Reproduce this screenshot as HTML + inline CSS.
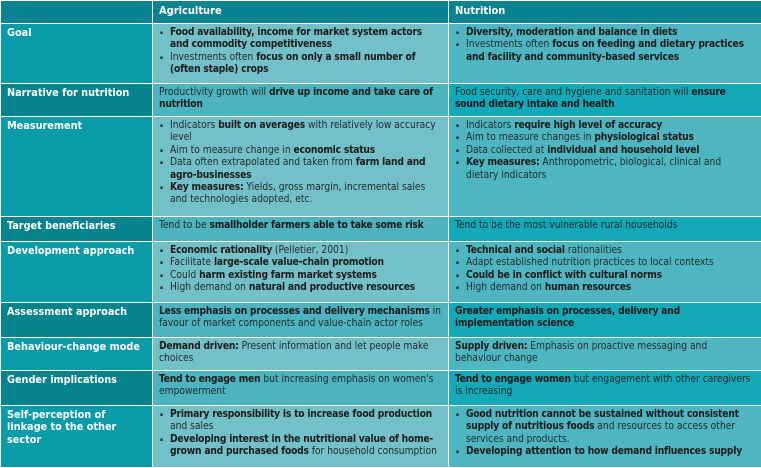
<!DOCTYPE html>
<html><head><style>
body{margin:0;width:761px;height:467px;overflow:hidden;background:#fff;font-family:"DejaVu Sans Condensed","Liberation Sans",sans-serif;}
table{border-collapse:collapse;width:761px;table-layout:fixed;font-size:10.2px;line-height:12.4px;color:#1d2a2c;}
td{border:1.5px solid #fff;vertical-align:top;padding:3px 5px 2px 6px;overflow:hidden;}
td.h{color:#fff;font-weight:bold;font-size:10.8px;}
tr.hd td{background:#08838f;color:#fff;font-weight:bold;font-size:11px;padding-top:4px;}
tr.a td.h{background:#0a9ba8}
tr.a td.c2{background:#74c0c9}
tr.a td.c3{background:#4fb6c1}
tr.b td.h{background:#07838e}
tr.b td.c2{background:#4cb3bf}
tr.b td.c3{background:#14a9b8}
ul{margin:0;padding:0;list-style:none}
li{padding-left:11px;position:relative}
li:before{content:"▪";position:absolute;left:1px;font-size:5px;top:0}
b{font-weight:bold;color:#1a1a1a;letter-spacing:-0.2px}
</style></head><body>
<table>
<col style="width:152px"><col style="width:296px"><col style="width:313px">
<tr class="hd" style="height:23px"><td></td><td>Agriculture</td><td>Nutrition</td></tr>
<tr class="a" style="height:60px"><td class="h">Goal</td><td class="c2"><ul><li><b>Food availability, income for market system actors and commodity competitiveness</b></li><li>Investments often <b>focus on only a small number of (often staple) crops</b></li></ul></td><td class="c3"><ul><li><b>Diversity, moderation and balance in diets</b></li><li>Investments often <b>focus on feeding and dietary practices and facility and community-based services</b></li></ul></td></tr>
<tr class="b" style="height:33px"><td class="h">Narrative for nutrition</td><td class="c2">Productivity growth will <b>drive up income and take care of nutrition</b></td><td class="c3">Food security, care and hygiene and sanitation will <b>ensure sound dietary intake and health</b></td></tr>
<tr class="a" style="height:100px"><td class="h">Measurement</td><td class="c2"><ul><li>Indicators <b>built on averages</b> with relatively low accuracy level</li><li>Aim to measure change in <b>economic status</b></li><li>Data often extrapolated and taken from <b>farm land and agro-businesses</b></li><li><b>Key measures:</b> Yields, gross margin, incremental sales and technologies adopted, etc.</li></ul></td><td class="c3"><ul><li>Indicators <b>require high level of accuracy</b></li><li>Aim to measure changes in <b>physiological status</b></li><li>Data collected at <b>individual and household level</b></li><li><b>Key measures:</b> Anthropometric, biological, clinical and dietary indicators</li></ul></td></tr>
<tr class="b" style="height:25px"><td class="h">Target beneficiaries</td><td class="c2">Tend to be <b>smallholder farmers able to take some risk</b></td><td class="c3">Tend to be the most vulnerable rural households</td></tr>
<tr class="a" style="height:61px"><td class="h">Development approach</td><td class="c2"><ul><li><b>Economic rationality</b> (Pelletier, 2001)</li><li>Facilitate <b>large-scale value-chain promotion</b></li><li>Could <b>harm existing farm market systems</b></li><li>High demand on <b>natural and productive resources</b></li></ul></td><td class="c3"><ul><li><b>Technical and social</b> rationalities</li><li>Adapt established nutrition practices to local contexts</li><li><b>Could be in conflict with cultural norms</b></li><li>High demand on <b>human resources</b></li></ul></td></tr>
<tr class="b" style="height:35px"><td class="h">Assessment approach</td><td class="c2"><b>Less emphasis on processes and delivery mechanisms</b> in favour of market components and value-chain actor roles</td><td class="c3"><b>Greater emphasis on processes, delivery and implementation science</b></td></tr>
<tr class="a" style="height:33px"><td class="h">Behaviour-change mode</td><td class="c2"><b>Demand driven:</b> Present information and let people make choices</td><td class="c3"><b>Supply driven:</b> Emphasis on proactive messaging and behaviour change</td></tr>
<tr class="b" style="height:35px"><td class="h">Gender implications</td><td class="c2"><b>Tend to engage men</b> but increasing emphasis on women's empowerment</td><td class="c3"><b>Tend to engage women</b> but engagement with other caregivers is increasing</td></tr>
<tr class="a" style="height:62px"><td class="h">Self-perception of linkage to the other sector</td><td class="c2"><ul><li><b>Primary responsibility is to increase food production</b> and sales</li><li><b>Developing interest in the nutritional value of home-grown and purchased foods</b> for household consumption</li></ul></td><td class="c3"><ul><li><b>Good nutrition cannot be sustained without consistent supply of nutritious foods</b> and resources to access other services and products.</li><li><b>Developing attention to how demand influences supply</b></li></ul></td></tr>
</table>
</body></html>
